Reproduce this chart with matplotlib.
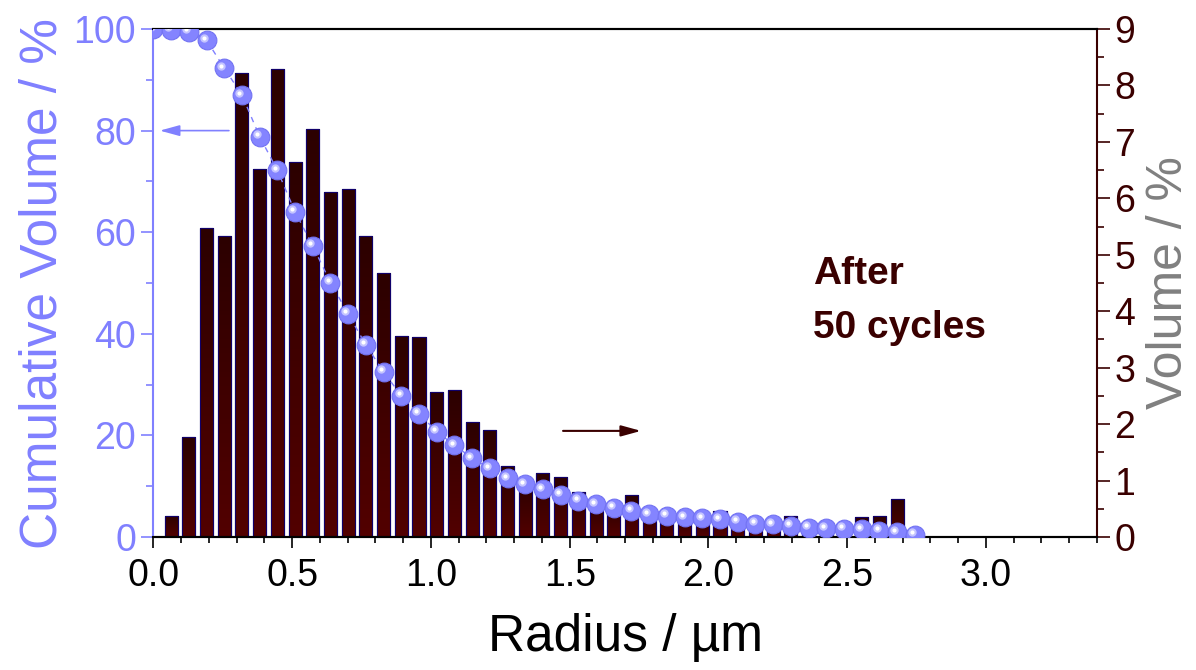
import numpy as np
import matplotlib
matplotlib.use('Agg')
import matplotlib.pyplot as plt
from matplotlib.ticker import MultipleLocator, FormatStrFormatter
from matplotlib.transforms import offset_copy

plt.rcParams['font.family'] = ['Liberation Sans', 'DejaVu Sans']

# bin step (radius, um)
step = 0.0638
# volume per bin, % (bins 1..42)
vol = [0.38, 1.77, 5.47, 5.34, 8.22, 6.52, 8.30, 6.65, 7.23, 6.11,
       6.16, 5.34, 4.68, 3.57, 3.55, 2.57, 2.60, 2.03, 1.89, 1.25,
       0.95, 1.14, 1.06, 0.80, 0.60, 0.55, 0.74, 0.45, 0.40, 0.38,
       0.35, 0.46, 0.30, 0.28, 0.25, 0.37, 0.22, 0.20, 0.20, 0.35,
       0.37, 0.67]
# cumulative volume, % (points 0..43)
cum = [100, 99.9, 99.5, 97.8, 92.3, 87.0, 78.8, 72.2, 64.0, 57.3,
       50.1, 43.9, 37.8, 32.5, 27.8, 24.3, 20.7, 18.1, 15.5, 13.5,
       11.6, 10.4, 9.4, 8.3, 7.1, 6.4, 5.8, 5.2, 4.5, 4.2,
       3.9, 3.7, 3.5, 3.0, 2.6, 2.5, 2.2, 1.8, 1.7, 1.6,
       1.5, 1.2, 0.9, 0.4]

r_bar = step * np.arange(1, len(vol) + 1)
r_cum = step * np.arange(len(cum))

blue = '#8080ff'
maroon = '#3a0000'

fig = plt.figure(figsize=(11.96, 6.70), dpi=100)
ax = fig.add_axes([0.1283, 0.1985, 0.7889, 0.7582])
ax2 = ax.twinx()
ax.set_zorder(ax2.get_zorder() + 1)
ax.patch.set_visible(False)

# bars (right axis) with a dark vertical gradient
bars = ax2.bar(r_bar, vol, width=0.047, color='#420000', edgecolor='#10006a', linewidth=0.8, zorder=2)
grad = np.linspace(0, 1, 64).reshape(-1, 1)
cmap = matplotlib.colors.LinearSegmentedColormap.from_list('g', ['#520000', '#2c0000'])
for b in bars:
    x0, w, h = b.get_x(), b.get_width(), b.get_height()
    im = ax2.imshow(grad, extent=[x0, x0 + w, 0, h], origin='lower', aspect='auto', cmap=cmap, zorder=2.1)
    im.set_clip_path(b)
    ax2.bar(x0 + w / 2, h, width=w, fill=False, edgecolor='#10006a', linewidth=0.8, zorder=2.2)

# cumulative curve (left axis) with sphere-like markers
ax.plot(r_cum, cum, color=blue, lw=1, dashes=(4, 4), zorder=3)
ax.plot(r_cum, cum, 'o', ms=13.5, color='#8484ff', mec='#7272f2', mew=0.8, zorder=4)
hl = offset_copy(ax.transData, fig=fig, x=-2.0, y=1.8, units='points')
ax.plot(r_cum, cum, 'o', ms=6, color='#c4c4ff', mec='none', transform=hl, zorder=5)
ax.plot(r_cum, cum, 'o', ms=3, color='white', mec='none', transform=hl, zorder=6)

ax.set_xlim(0, 3.4)
ax.set_ylim(0, 100)
ax2.set_ylim(0, 9)
ax2.set_xlim(0, 3.4)

ax.xaxis.set_major_locator(MultipleLocator(0.5))
ax.xaxis.set_minor_locator(MultipleLocator(0.1))
ax.xaxis.set_major_formatter(FormatStrFormatter('%.1f'))
ax.yaxis.set_major_locator(MultipleLocator(20))
ax.yaxis.set_minor_locator(MultipleLocator(10))
ax2.yaxis.set_major_locator(MultipleLocator(1))
ax2.yaxis.set_minor_locator(MultipleLocator(0.5))

ax.tick_params(axis='x', which='major', length=8, width=1.2, labelsize=27, pad=7)
ax.tick_params(axis='x', which='minor', length=4, width=1.2)
ax.tick_params(axis='y', which='major', length=9, width=1.2, colors=blue, labelsize=27)
ax.tick_params(axis='y', which='minor', length=5, width=1.2, colors=blue)
ax2.tick_params(axis='y', which='major', length=9, width=1.2, colors=maroon, labelsize=27)
ax2.tick_params(axis='y', which='minor', length=5, width=1.2, colors=maroon)

for a in (ax, ax2):
    a.spines['top'].set_color('black')
    a.spines['bottom'].set_color('black')
    a.spines['top'].set_linewidth(1.5)
    a.spines['bottom'].set_linewidth(1.5)
ax.spines['left'].set_color(blue)
ax.spines['left'].set_linewidth(1.5)
ax2.spines['left'].set_visible(False)
ax2.spines['right'].set_color(maroon)
ax2.spines['right'].set_linewidth(1.5)
ax.spines['right'].set_visible(False)

ax.set_xlabel('Radius / µm', fontsize=37, labelpad=14)
ax.set_ylabel('Cumulative Volume / %', fontsize=37, color=blue, labelpad=4)
ax2.set_ylabel('Volume / %', fontsize=36, color='#808080', labelpad=8)

# direction arrows
ax.annotate('', xy=(0.023, 80), xytext=(0.272, 80),
            arrowprops=dict(arrowstyle='-|>,head_length=0.8,head_width=0.22', color=blue, lw=1.2, mutation_scale=15, shrinkA=0, shrinkB=0))
ax2.annotate('', xy=(1.757, 1.88), xytext=(1.476, 1.88),
             arrowprops=dict(arrowstyle='-|>,head_length=0.8,head_width=0.22', color=maroon, lw=1.5, mutation_scale=15, shrinkA=0, shrinkB=0))

ax2.text(2.377, 4.49, 'After', fontsize=28, fontweight='bold', color=maroon, va='baseline')
ax2.text(2.377, 3.52, '50 cycles', fontsize=28, fontweight='bold', color=maroon, va='baseline')

fig.savefig('out.png', dpi=100)
